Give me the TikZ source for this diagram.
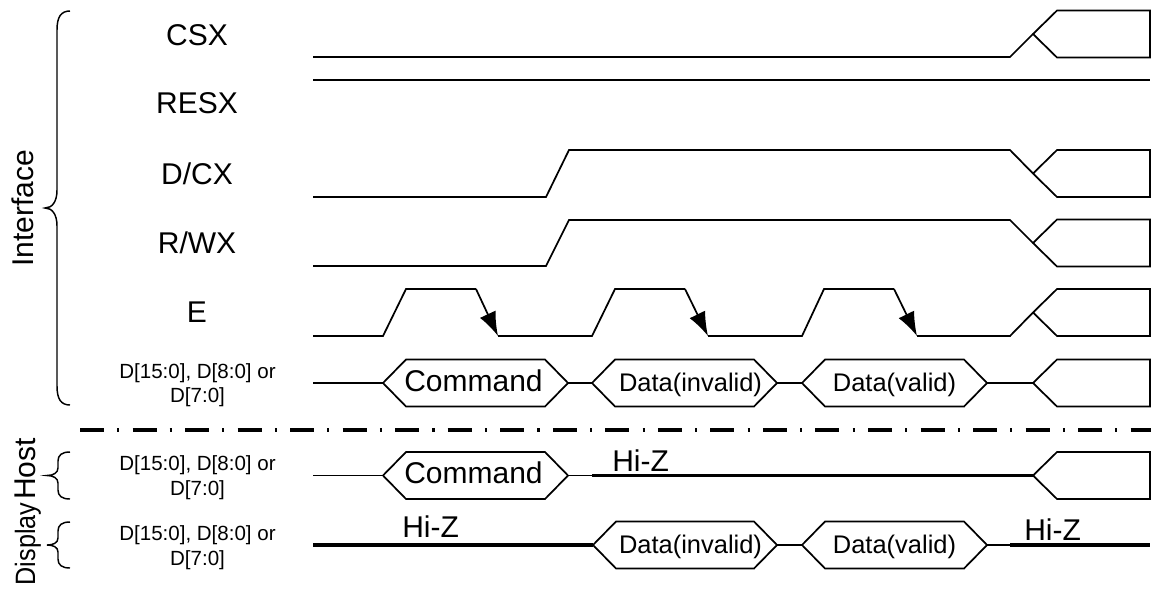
\documentclass[tikz,border=0pt]{standalone}
\usepackage{fontspec}
\setmainfont{Liberation Sans}
\usepackage{graphicx}
\usetikzlibrary{arrows.meta}
\tikzset{
  sig/.style={line width=1.3pt, line join=miter},
  hiz/.style={line width=2.3pt},
  sepline/.style={line width=2.5pt, dash pattern=on 18pt off 9.9pt on 1.6pt off 9.9pt},
  bracestyle/.style={line width=1.1pt},
  big/.style={font=\fontsize{22.5pt}{27pt}\selectfont, inner sep=0pt, anchor=base},
  mid/.style={font=\fontsize{19.1pt}{23pt}\selectfont, inner sep=0pt, anchor=base},
  small/.style={font=\fontsize{15.4pt}{18.75pt}\selectfont, inner sep=0pt, anchor=base},
  hizlbl/.style={font=\fontsize{22.5pt}{27pt}\selectfont, inner sep=0pt, anchor=base west},
  etip/.style={-{Latex[length=18pt,width=13pt]}},
}
% hexagon bus: left x, right x, center y, text x, name, style, text
\newcommand{\hexbus}[7]{%
  \draw[sig] (#1,#3) -- ({#1+23},{#3-23.5}) -- ({#2-23},{#3-23.5}) -- (#2,#3)
     -- ({#2-23},{#3+23.5}) -- ({#1+23},{#3+23.5}) -- cycle;
  \node[#6] (#5) at (#4,{#3+8}) {#7};}
% open bus at the right end, center y
\newcommand{\busend}[1]{%
  \draw[sig] (1033,#1) -- (1057,{#1-23.5}) -- (1150,{#1-23.5}) -- (1150,{#1+23.5})
     -- (1057,{#1+23.5}) -- cycle;}
\begin{document}
\begin{tikzpicture}[x=0.75pt,y=-0.75pt]
\useasboundingbox (0,0) rectangle (1151,590);

% ---- labels
\node[big] (lcsx) at (197,45) {CSX};
\node[big] (lresx) at (197,113) {RESX};
\node[big] (ldcx) at (197,184) {D/CX};
\node[big] (lrwx) at (197,253) {R/WX};
\node[big] (le) at (197,322) {E};
\node[small] (ldi1) at (197.5,378) {D[15:0], D[8:0] or};
\node[small] (ldi2) at (197.5,402) {D[7:0]};
\node[small] (ldh1) at (197.5,470) {D[15:0], D[8:0] or};
\node[small] (ldh2) at (197.5,495) {D[7:0]};
\node[small] (ldd1) at (197.5,540) {D[15:0], D[8:0] or};
\node[small] (ldd2) at (197.5,565) {D[7:0]};

\node[big, rotate=90] (linterface) at (33,208.5) {Interface};
\node[big, rotate=90] (lhost) at (35,469) {Host};
\node[big, rotate=90, font=\fontsize{21pt}{25pt}\selectfont] (ldisplay) at (35,544) {\scalebox{0.9}[1]{Display}};

% ---- braces
\draw[bracestyle] (70,11) .. controls (61,11) and (57,17) .. (57,30) -- (57,190)
  .. controls (57,202) and (52,208) .. (45,208)
  .. controls (52,208) and (57,214) .. (57,226) -- (57,386)
  .. controls (57,399) and (61,405) .. (70,405);
\draw[bracestyle] (70,452) .. controls (62,452) and (58,455) .. (58,461) -- (58,468)
  .. controls (58,473) and (53,475.5) .. (47,475.5)
  .. controls (53,475.5) and (58,478) .. (58,483) -- (58,490)
  .. controls (58,496) and (62,499) .. (70,499);
\draw[bracestyle] (70,522) .. controls (62,522) and (58,525) .. (58,531) -- (58,538)
  .. controls (58,543) and (53,545) .. (47,545)
  .. controls (53,545) and (58,547) .. (58,552) -- (58,559)
  .. controls (58,565) and (62,568) .. (70,568);

% ---- CSX
\draw[sig] (313,57) -- (1010,57) -- (1033,34);
\busend{34}
% ---- RESX
\draw[sig] (313,80) -- (1150,80);
% ---- D/CX
\draw[sig] (313,197) -- (546,197) -- (569,150) -- (1010,150) -- (1033,173.5);
\busend{173.5}
% ---- R/WX
\draw[sig] (313,266) -- (546,266) -- (569,220) -- (1010,220) -- (1033,243);
\busend{243}
% ---- E
\draw[sig] (313,336) -- (383,336) -- (406,289) -- (476,289);
\draw[sig,etip] (476,289) -- (498,336);
\draw[sig] (498,336) -- (592,336) -- (615,289) -- (685,289);
\draw[sig,etip] (685,289) -- (708,336);
\draw[sig] (708,336) -- (802,336) -- (824,289) -- (894,289);
\draw[sig,etip] (894,289) -- (917,336);
\draw[sig] (917,336) -- (1010,336) -- (1033,312.5);
\busend{312.5}
% ---- Interface data bus
\draw[sig] (313,383) -- (383,383);
\hexbus{383}{568}{383}{473.5}{cmdi}{big}{Command}
\draw[sig] (568,383) -- (592,383);
\hexbus{592}{777}{383}{690.5}{dinvi}{mid}{Data(invalid)}
\draw[sig] (777,383) -- (802,383);
\hexbus{802}{987}{383}{894.5}{dvali}{mid}{Data(valid)}
\draw[sig] (987,383) -- (1033,383);
\busend{383}

% ---- separator
\draw[sepline] (80,430) -- (1151,430);

% ---- Host row
\draw[sig] (313,475.5) -- (383,475.5);
\hexbus{383}{568}{475.5}{473.5}{cmdh}{big}{Command}
\draw[sig] (568,475.5) -- (592,475.5);
\draw[hiz] (592,475.5) -- (1033,475.5);
\busend{475.5}
\node[hizlbl] (hizh) at (612,471) {Hi-Z};

% ---- Display row
\draw[hiz] (313,545) -- (593,545);
\hexbus{593}{777}{545}{690.5}{dinvd}{mid}{Data(invalid)}
\draw[sig] (777,545) -- (802,545);
\hexbus{802}{987}{545}{894.5}{dvald}{mid}{Data(valid)}
\draw[sig] (987,545) -- (1010,545);
\draw[hiz] (1010,545) -- (1150,545);
\node[hizlbl] (hizd1) at (402,537) {Hi-Z};
\node[hizlbl] (hizd2) at (1024,540) {Hi-Z};
\end{tikzpicture}
\end{document}
